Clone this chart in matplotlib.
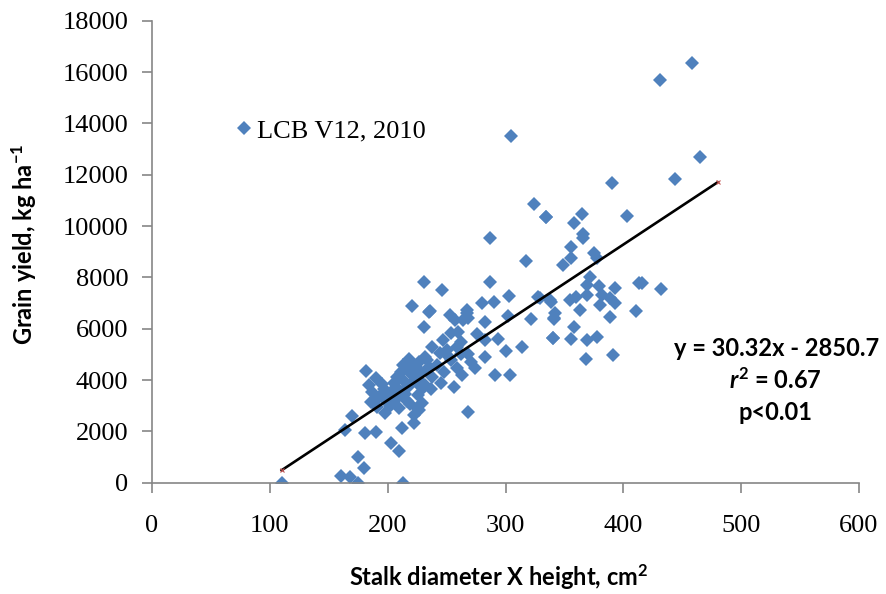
import matplotlib
matplotlib.use('Agg')
from matplotlib import pyplot as plt
import numpy as np

# stalk diameter x height (cm2) vs grain yield (kg/ha)
stalk = [110, 160, 168, 175, 213, 175, 180, 164, 170, 181, 190, 203, 210, 212,
         182, 190, 184, 187, 193, 186, 197, 200, 191, 198, 203, 206, 208, 210,
         212, 214, 216, 218, 220, 211, 213, 218, 222, 225, 228, 230, 232, 235,
         238, 222, 225, 222, 205, 202, 215, 219, 226, 229, 195, 199, 208, 217,
         223, 227, 210,
         238, 247, 254, 260, 244, 250, 259, 233, 254, 259, 263, 232, 237, 227,
         271, 274, 264, 242, 248, 252, 245,
         317, 231, 246, 287, 303, 280, 290, 328, 338, 236, 253, 267, 268, 283,
         302, 322, 341, 231, 283, 294, 300, 314, 340, 283, 291, 304, 256, 268,
         227, 221, 235, 257, 267, 287, 305, 324, 334, 262, 268, 276, 262,
         465, 444, 390, 403, 334, 365, 358, 366, 366, 356, 375, 378, 356, 349,
         372, 369, 379, 393, 413, 416, 432, 339, 355, 360, 369, 382, 389, 393,
         380, 363, 342, 341, 411, 389, 358, 340, 356, 369, 378, 368, 391, 329,
         458, 431]
grain = [0, 260, 240, 0, 0, 1000, 560, 2050, 2590, 1920, 1990, 1560, 1250, 2140,
         4350, 4070, 3800, 3550, 3350, 3150, 3650, 3450, 2950, 2700, 3100, 3700, 3300, 2900,
         3550, 3950, 3200, 3750, 4250, 4300, 4600, 4800, 4500, 3900, 4300, 3700, 4900, 4500,
         4100, 2640, 2900, 2310, 3900, 3000, 3450, 3050, 3400, 3100, 3850, 3200, 4100, 4400,
         4000, 4700, 3600,
         5300, 5560, 5820, 5880, 5050, 5170, 5300, 4780, 4780, 4460, 4200, 3810, 3640, 4000,
         4710, 4460, 6340, 4600, 4300, 4900, 3900,
         8650, 7800, 7500, 7830, 7290, 6990, 7030, 7250, 7120, 6690, 6530, 6730, 6400, 6250,
         6490, 6380, 6400, 6050, 5560, 5590, 5130, 5270, 5620, 4910, 4200, 4200, 3740, 2740,
         2830, 6880, 6660, 6340, 6600, 9520, 13500, 10860, 10340, 5500, 5000, 5800, 5000,
         12700, 11820, 11660, 10390, 10340, 10460, 10100, 9690, 9520, 9190, 8940, 8740, 8740, 8480,
         8020, 7700, 7660, 7570, 7770, 7790, 7530, 7050, 7120, 7250, 7310, 7310, 7180, 6990,
         6920, 6730, 6600, 6370, 6700, 6470, 6080, 5620, 5590, 5560, 5690, 4810, 4970, 7180,
         16340, 15680]

# linear trend from the chart: y = 30.32x - 2850.7, drawn from x=110 to 480
slope, intercept = 30.32, -2850.7
fit_range = [110, 480]
fit_x = np.array(fit_range)
fit_y = slope * fit_x + intercept

plt.rcParams['mathtext.fontset'] = 'custom'
plt.rcParams['mathtext.bf'] = 'Lato:bold'
plt.rcParams['mathtext.it'] = 'Lato:italic:bold'
plt.rcParams['mathtext.rm'] = 'Lato:bold'

fig = plt.figure(figsize=(8.87, 5.94), dpi=100)
ax = fig.add_axes([0.1714, 0.1874, 0.797, 0.7778])

ax.plot(stalk, grain, 'D', color='#4F81BD', markersize=7.5, markeredgewidth=0,
        label='LCB V12, 2010')
ax.plot(fit_x, fit_y, '-', color='black', linewidth=1.9, zorder=3)
ax.plot(fit_x, fit_y, 'x', color='#c0504d', markersize=3, markeredgewidth=0.8, zorder=4)

ax.set_xlim(0, 600)
ax.set_ylim(0, 18000)
ax.set_xticks(np.arange(0, 601, 100))
ax.set_yticks(np.arange(0, 18001, 2000))

for s in ['top', 'right']:
    ax.spines[s].set_visible(False)
for s in ['left', 'bottom']:
    ax.spines[s].set_color('#868686')
    ax.spines[s].set_linewidth(1.2)
ax.tick_params(axis='both', direction='out', length=7, width=1.2, color='#868686',
               labelsize=19, labelcolor='black')
ax.tick_params(axis='x', pad=16)
ax.tick_params(axis='y', pad=10)
for lab in ax.get_xticklabels() + ax.get_yticklabels():
    lab.set_fontfamily('Liberation Serif')

ax.set_xlabel(r'Stalk diameter X height, cm$^{\mathbf{2}}$', fontsize=17,
              fontweight='bold', family='Lato')
ax.xaxis.set_label_coords(0.49, -0.172)
ax.set_ylabel(r'Grain yield, kg ha$^{\mathbf{-1}}$', fontsize=17,
              fontweight='bold', family='Lato')
ax.yaxis.set_label_coords(-0.160, 0.515)

ax.legend(loc='center left', bbox_to_anchor=(0.119, 0.762), frameon=False,
          handlelength=0.6, handletextpad=0.2, borderpad=0, borderaxespad=0,
          prop={'family': 'Liberation Serif', 'size': 19})

ax.text(0.8755, 1 - 348 / 594, 'y = 30.32x - 2850.7', transform=fig.transFigure,
        ha='center', va='center', fontsize=17, fontweight='bold', family='Lato')
ax.text(0.8740, 1 - 380 / 594, r'$\mathit{r}^{\mathbf{2}}$ = 0.67', transform=fig.transFigure,
        ha='center', va='center', fontsize=17, fontweight='bold', family='Lato')
ax.text(0.8740, 1 - 413 / 594, 'p<0.01', transform=fig.transFigure,
        ha='center', va='center', fontsize=17, fontweight='bold', family='Lato')

plt.savefig('out.png', dpi=100)
